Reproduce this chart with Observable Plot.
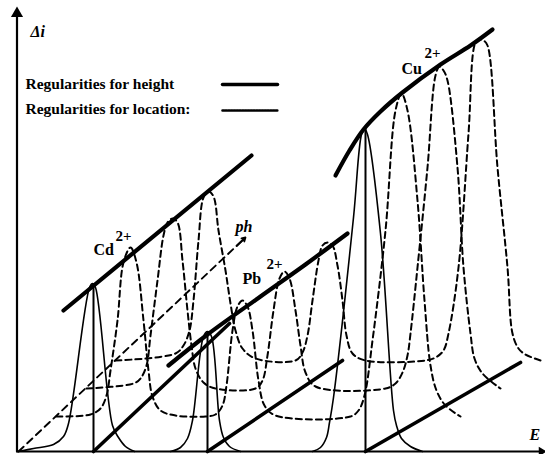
<!DOCTYPE html>
<html><head><meta charset="utf-8">
<script src="https://cdn.jsdelivr.net/npm/d3@7"></script>
<script src="https://cdn.jsdelivr.net/npm/@observablehq/plot@0.6"></script>
<style>body{margin:0;background:#fff}svg{display:block}</style>
</head><body><div id="chart"></div>
<script>
// Coordinates are (E, Δi) in schematic units.
const axisE = [[16.5,451],[543,451]];
const axisI = [[16.5,451],[16.5,14]];

// "Regularities for height" lines (thick solid)
const cdHeight = [[63,310],[251,155]];
const pbHeight = [[168,365],[207,334],[260,296],[305,264],[347,233]];
const cuHeight = [[335,175],[349,150],[363,129],[380,111],[402,92],[440,64],[470,45],[492,29]];

// location lines (thick solid)
const cdLocation = [[93,451],[229,323]];
const pbLocation = [[207,451],[342,360]];
const cuLocation = [[365,451],[520,362]];

// pH direction (dashed arrow)
const phLine = [[18,451],[245,237]];

// solid peaks (initial voltammogram)
const cdPeak = [[18,451],[33,448],[53,444],[63,436],[68,423],[89,287],[92,283],[95,287],[112,425],[118,437],[125,446],[134,451]];
const pbPeak = [[170,451],[180,447],[187,438],[192,420],[203,336],[207,331],[211,336],[219,420],[223,437],[229,446],[240,451]];
const cuPeak = [[312,451],[320,447],[326,437],[329,422],[333,397],[353,217],[361,134],[364,128],[367,134],[380,233],[393,410],[396,425],[401,438],[410,446],[422,451]];
const peakPositions = [[93,283],[207,331],[365,128]];

// dashed voltammograms at successive pH values
const scan1 = [[56,416],[90,414],[100,408],[106,395],[110,370],[117,320],[123,262],[130,247],[136,262],[143,320],[148,370],[152,396],[160,410],[175,415],[205,416],[215,414],[222,405],[226,385],[232,330],[237,306],[242,300],[247,306],[252,330],[258,380],[264,405],[275,415],[350,416],[358,410],[364,395],[372,340],[385,230],[395,110],[401,93],[407,110],[417,200],[424,300],[430,365],[436,390],[445,405],[460,416]];
const scan2 = [[86,388],[133,383],[140,378],[146,365],[150,335],[157,280],[163,235],[167,222],[172,218],[177,222],[182,260],[187,310],[191,345],[195,368],[203,382],[215,388],[255,388],[262,380],[267,355],[273,310],[279,278],[284,271],[289,278],[295,310],[300,345],[305,372],[315,386],[385,388],[395,383],[402,372],[407,355],[410,333],[417,267],[427,167],[435,75],[439,66],[443,70],[447,80],[457,167],[463,267],[470,333],[474,358],[482,373],[500,388]];
const scan3 = [[115,360],[175,353],[183,345],[189,330],[193,300],[198,240],[203,197],[208,191],[213,196],[218,230],[225,270],[230,303],[235,330],[242,348],[255,358],[295,360],[302,352],[307,335],[312,300],[318,260],[322,245],[327,242],[332,245],[337,265],[342,300],[346,335],[352,353],[365,360],[425,360],[435,357],[443,350],[448,333],[458,267],[468,133],[475,42],[479,39],[483,40],[487,45],[497,167],[507,267],[512,333],[518,348],[525,354],[540,360]];

// legend
const legendText = ["Regularities for height","Regularities for location:"];
const legendTextPos = [[25,88],[25,113]];
const legendSolid = [[222,84],[277,84]];
const legendDotted = [[222,110],[278,110]];

// labels
const ionNames = ["Cd","Pb","Cu"];
const ionNamePos = [[93,254],[242,283],[401,73]];
const chargePos = [[115,240],[266,268],[424,57]];

const P = a => a.map(([E,I]) => ({E,I}));
const line = (a, o) => Plot.line(P(a), {x:"E", y:"I", stroke:"#000", ...o});
const serif = "'Liberation Serif', 'Times New Roman', serif";

const chart = Plot.plot({
  width:545, height:454, margin:0,
  x:{domain:[0,545], range:[0,545], axis:null},
  y:{domain:[0,454], range:[0,454], axis:null},
  style:{background:"#fff"},
  marks:[
    // axes
    line(axisE,{strokeWidth:2}),
    line(axisI,{strokeWidth:2.2}),
    Plot.dot([{E:16.5,I:13}],{x:"E",y:"I",symbol:"triangle",r:4.5,fill:"#000",stroke:"none"}),
    Plot.dot([{E:541,I:451}],{x:"E",y:"I",symbol:"triangle",r:3.5,fill:"#000",stroke:"none",rotate:90}),
    // dashed voltammograms
    ...[scan1,scan2,scan3].map(s => line(s,{strokeWidth:2,strokeDasharray:"6,4",curve:"catmull-rom"})),
    // pH arrow
    line(phLine,{strokeWidth:1.9,strokeDasharray:"7,5"}),
    Plot.arrow([{x1:236,y1:245.5,x2:245,y2:237}],{x1:"x1",y1:"y1",x2:"x2",y2:"y2",stroke:"#000",strokeWidth:1.8,headLength:8,bend:false}),
    // solid peaks
    ...[cdPeak,pbPeak,cuPeak].map(s => line(s,{strokeWidth:1.6,curve:"catmull-rom"})),
    Plot.ruleX(P(peakPositions),{x:"E",y1:451,y2:"I",stroke:"#000",strokeWidth:2}),
    // regularity lines
    ...[cdHeight,pbHeight,cuHeight].map(s => line(s,{strokeWidth:4.2,curve:"catmull-rom",strokeLinecap:"round"})),
    ...[cdLocation,pbLocation,cuLocation].map(s => line(s,{strokeWidth:3.6,strokeLinecap:"round"})),
    // legend
    Plot.text(legendText,{x:(d,i)=>legendTextPos[i][0],y:(d,i)=>legendTextPos[i][1],text:d=>d,textAnchor:"start",lineAnchor:"bottom",fontSize:15.5,fontWeight:"bold",fontFamily:serif,fill:"#000"}),
    line(legendSolid,{strokeWidth:3.5}),
    line(legendDotted,{strokeWidth:2.6,strokeDasharray:"1.6,1.2"}),
    // labels
    Plot.text(ionNames,{x:(d,i)=>ionNamePos[i][0],y:(d,i)=>ionNamePos[i][1],text:d=>d,textAnchor:"start",lineAnchor:"bottom",fontSize:16,fontWeight:"bold",fontFamily:serif,fill:"#000"}),
    Plot.text(ionNames,{x:(d,i)=>chargePos[i][0],y:(d,i)=>chargePos[i][1],text:()=>"2+",textAnchor:"start",lineAnchor:"bottom",fontSize:15,fontWeight:"bold",fontFamily:serif,fill:"#000"}),
    Plot.text(["ph"],{x:235,y:231,text:d=>d,textAnchor:"start",lineAnchor:"bottom",fontSize:16,fontStyle:"italic",fontWeight:"bold",fontFamily:serif,fill:"#000"}),
    Plot.text(["Δi"],{x:30,y:36,text:d=>d,textAnchor:"start",lineAnchor:"bottom",fontSize:16,fontStyle:"italic",fontWeight:"bold",fontFamily:serif,fill:"#000"}),
    Plot.text(["E"],{x:529,y:439,text:d=>d,textAnchor:"start",lineAnchor:"bottom",fontSize:16,fontStyle:"italic",fontWeight:"bold",fontFamily:serif,fill:"#000"})
  ]
});
document.getElementById("chart").append(chart);
</script></body></html>
